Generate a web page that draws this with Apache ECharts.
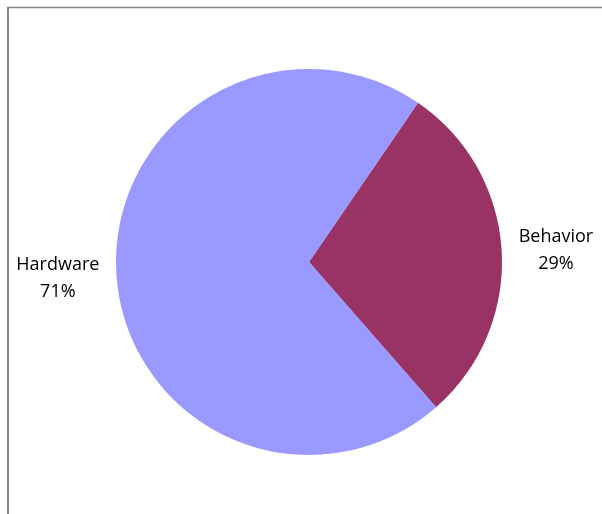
<!DOCTYPE html>
<html>
<head>
<meta charset="utf-8">
<style>
  html, body { margin: 0; padding: 0; background: #ffffff; }
  #chart { width: 602px; height: 514px; }
</style>
<script src="https://cdn.jsdelivr.net/npm/echarts@6/dist/echarts.min.js"></script>
</head>
<body>
<div id="chart"></div>
<script>
// Share of issues by category
const categories = ['Behavior', 'Hardware'];
const shares = [29, 71];
const sliceColors = ['#993366', '#9999FF'];

const chart = echarts.init(document.getElementById('chart'), null, { renderer: 'canvas' });

const pieData = categories.map((name, i) => ({
  name: name,
  value: shares[i],
  itemStyle: { color: sliceColors[i] }
}));

chart.setOption({
  animation: false,
  backgroundColor: '#ffffff',
  graphic: [
    // plot frame along the left and top edges
    { type: 'line', shape: { x1: 8, y1: 7, x2: 8, y2: 520 }, style: { stroke: '#868686', lineWidth: 2 } },
    { type: 'line', shape: { x1: 7, y1: 7.5, x2: 610, y2: 7.5 }, style: { stroke: '#868686', lineWidth: 1.5 } }
  ],
  series: [{
    type: 'pie',
    center: [309, 262],
    radius: 193,
    startAngle: 55.6,
    clockwise: true,
    avoidLabelOverlap: false,
    itemStyle: { borderWidth: 0 },
    emphasis: { disabled: true },
    label: {
      show: true,
      position: 'outside',
      formatter: '{b}\n{d}%',
      fontFamily: 'Open Sans',
      fontSize: 18,
      lineHeight: 27,
      color: '#000000'
    },
    labelLine: { show: false, length: 8, length2: 4 },
    labelLayout: function (params) {
      const w = params.labelRect.width;
      const onLeft = params.labelRect.x + w / 2 < 309;
      return { align: 'center', dx: onLeft ? -w / 2 : w / 2, dy: onLeft ? 4 : 0 };
    },
    data: pieData
  }]
});
</script>
</body>
</html>
